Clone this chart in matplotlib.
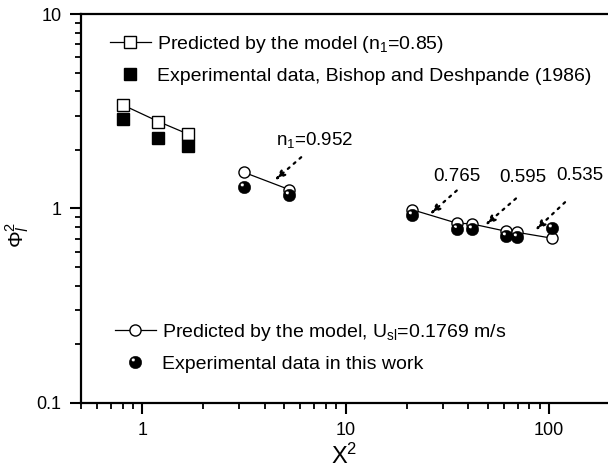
import numpy as np
import matplotlib
matplotlib.use('Agg')
import matplotlib.pyplot as plt
from matplotlib.path import Path
from matplotlib.ticker import LogLocator, NullFormatter

plt.rcParams['font.family'] = ['Liberation Sans', 'DejaVu Sans']
plt.rcParams['mathtext.default'] = 'regular'

# Bishop and Deshpande (1986), n1 = 0.85
x_bd = [0.806, 1.20, 1.685]
pred_bd = [3.40, 2.80, 2.41]
exp_bd = [2.89, 2.30, 2.10]

# this work, Usl = 0.1769 m/s
x_a = [3.15, 5.27]
pred_a = [1.537, 1.252]
exp_a = [1.287, 1.18]

x_b = [21.1, 35.3, 41.6, 61.4, 69.3, 103.0]
pred_b = [0.988, 0.840, 0.834, 0.764, 0.755, 0.704]
exp_b = [0.930, 0.787, 0.787, 0.721, 0.712, 0.796]

# n1 labels: text, text pos, arrow tail, arrow tip
n1_labels = ['n$_1$=0.952', '0.765', '0.595', '0.535']
n1_text = [(4.57, 2.237), (35.4, 1.46), (74.5, 1.449), (142, 1.478)]
n1_tail = [(6.05, 1.835), (35.2, 1.237), (68.8, 1.126), (119.9, 1.077)]
n1_tip = [(4.47, 1.393), (25.9, 0.931), (48.4, 0.818), (85.3, 0.77)]

# shaded ball marker: black disc with a small highlight hole
c = Path.unit_circle()
rv = c.vertices[:-1][::-1]
inner = np.vstack([rv, rv[:1]]) * 0.28 + [-0.35, 0.42]
ball = Path(np.vstack([c.vertices, inner]), np.concatenate([c.codes, c.codes]))

fig = plt.figure(figsize=(6.08, 4.70), dpi=100)
ax = fig.add_axes([0.1332, 0.1426, 0.8668, 0.8276])

ms = 8
l1, = ax.plot(x_bd, pred_bd, '-', color='black', lw=0.9, marker='s', ms=ms,
              mfc='white', mec='black', mew=1.0, zorder=2)
l2, = ax.plot(x_bd, exp_bd, 's', color='black', ms=ms, zorder=3)

l3, = ax.plot(x_a, pred_a, '-', color='black', lw=0.9, marker='o', ms=ms,
              mfc='white', mec='black', mew=1.0, zorder=2)
ax.plot(x_b, pred_b, '-', color='black', lw=0.9, marker='o', ms=ms,
        mfc='white', mec='black', mew=1.0, zorder=2)
l4, = ax.plot(x_a + x_b, exp_a + exp_b, ls='none', marker=ball, ms=9,
              mfc='black', mec='black', mew=0.3, zorder=3)

for lab, tp, tail, tip in zip(n1_labels, n1_text, n1_tail, n1_tip):
    ax.annotate('', xy=tip, xytext=tail,
                arrowprops=dict(arrowstyle='-|>,head_length=0.6,head_width=0.2',
                                linestyle=(0, (1, 2.5)), lw=1.6, color='black',
                                shrinkA=0, shrinkB=0))
    ax.text(tp[0], tp[1], lab, fontsize=13.5, ha='center' if lab[0] == '0' else 'left',
            va='center')

ax.set_xscale('log')
ax.set_yscale('log')
ax.set_xlim(0.5, 195)
ax.set_ylim(0.1, 10)

ax.set_xticks([1, 10, 100])
ax.set_xticklabels(['1', '10', '100'])
ax.set_yticks([0.1, 1, 10])
ax.set_yticklabels(['0.1', '1', '10'])
ax.xaxis.set_minor_locator(LogLocator(base=10, subs=np.arange(2, 10)))
ax.yaxis.set_minor_locator(LogLocator(base=10, subs=np.arange(2, 10)))
ax.xaxis.set_minor_formatter(NullFormatter())
ax.yaxis.set_minor_formatter(NullFormatter())
ax.tick_params(which='major', direction='out', length=8, width=1.5, labelsize=13, pad=6)
ax.tick_params(which='minor', direction='out', length=4, width=1.3)

for s in ['left', 'bottom', 'top']:
    ax.spines[s].set_linewidth(1.6)
ax.spines['right'].set_visible(False)

ax.set_xlabel('X$^2$', fontsize=17, labelpad=3)
fig.text(0.03, 0.50, r'$\Phi^2_{\it l}$', fontsize=15, rotation=90, ha='center', va='center')

leg1 = ax.legend([l1, l2], ['Predicted by the model (n$_1$=0.85)',
                            'Experimental data, Bishop and Deshpande (1986)'],
                 loc='upper left', bbox_to_anchor=(0.055, 0.948), frameon=False,
                 fontsize=14, borderpad=0, borderaxespad=0, handlelength=2.1,
                 handletextpad=0.3, labelspacing=0.62)
ax.add_artist(leg1)
ax.legend([l3, l4], ['Predicted by the model, U$_{sl}$=0.1769 m/s',
                     'Experimental data in this work'],
          loc='upper left', bbox_to_anchor=(0.064, 0.208), frameon=False,
          fontsize=14, borderpad=0, borderaxespad=0, handlelength=2.1,
          handletextpad=0.35, labelspacing=0.62)

fig.savefig('out.png', dpi=100)
